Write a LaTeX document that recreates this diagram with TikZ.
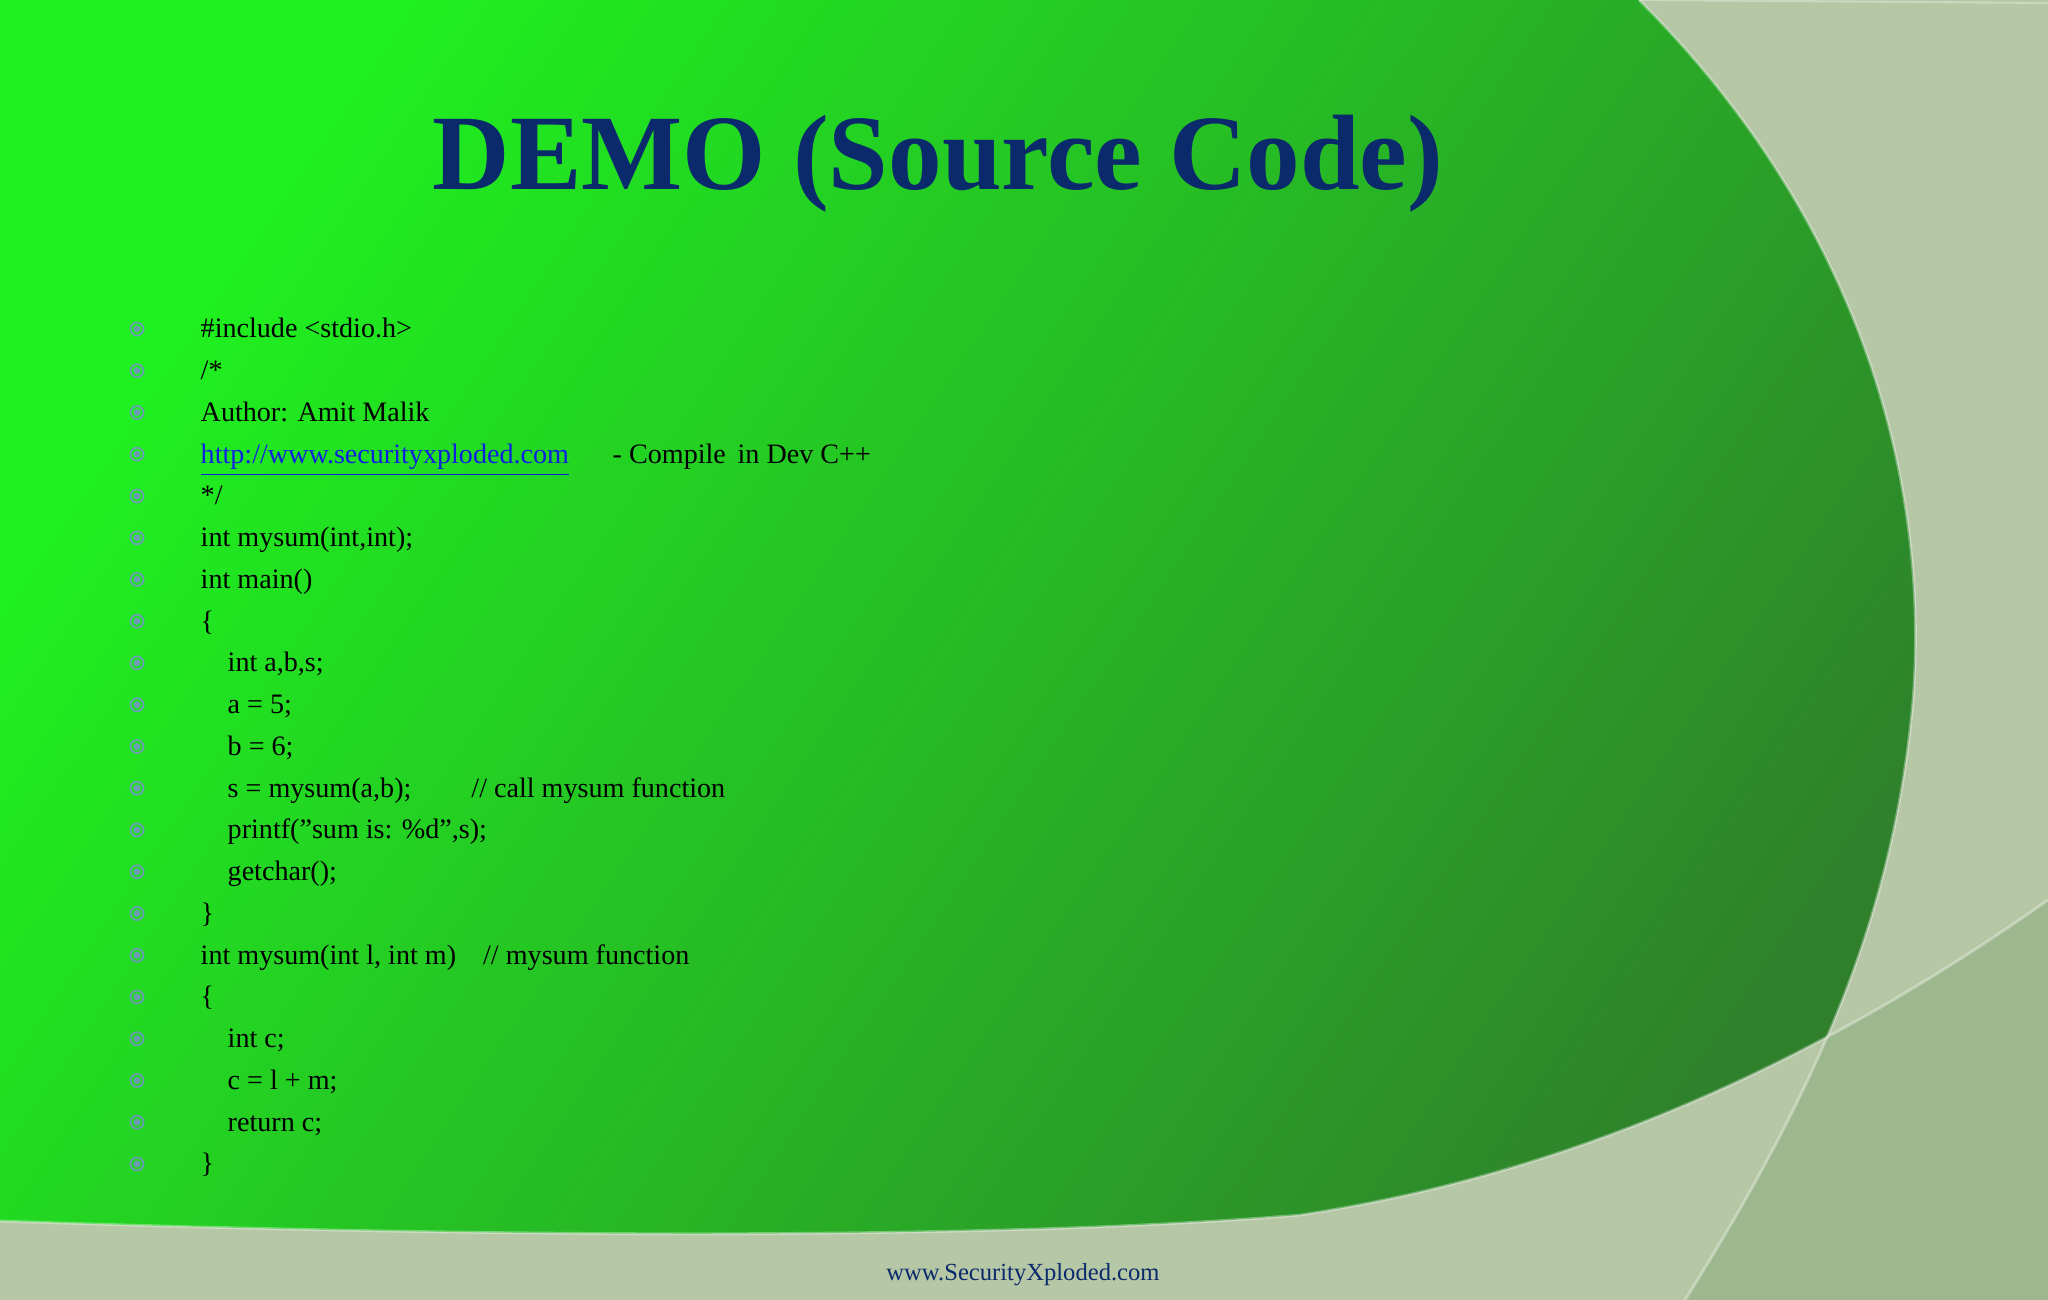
\documentclass[tikz,border=0pt]{standalone}
\usepackage{fontspec}
\setmainfont{Liberation Serif}
\definecolor{pale}{HTML}{B6C7A6}
\definecolor{palegreen}{HTML}{9DB78E}
\definecolor{bright}{HTML}{1FF01F}
\definecolor{khaki}{HTML}{9CC06C}
\definecolor{dark}{HTML}{2F7F2B}
\definecolor{titleblue}{HTML}{0B2A6B}
\definecolor{bul}{HTML}{6B9CB4}
\definecolor{linkblue}{HTML}{1020E0}
\tikzset{
 codeline/.style={anchor=base west,inner sep=0pt,font=\fontsize{8.0}{10}\selectfont,text=black},
 bulletmark/.style={circle,draw=bul,line width=0.5pt,minimum size=0.13cm,inner sep=0pt,
   path picture={\fill[bul] (path picture bounding box.center) circle (0.035cm);}}
}
\def\arcpath{(16.39,13) .. controls (18.6,10.8) and (19.3,8.2) .. (19.13,6.0)
  .. controls (18.95,4.0) and (18.3,2.3) .. (16.85,0)}
\def\curvepath{(0,0.79) .. controls (5,0.62) and (10,0.6) .. (13,0.85) .. controls (16,1.3) and (18.5,2.6) .. (20.48,4.0)}
\begin{document}
\begin{tikzpicture}
\useasboundingbox (0,0) rectangle (20.48,13);
\fill[pale] (0,0) rectangle (20.48,13);
% lower right corner region
\begin{scope}
 \clip \arcpath -- (20.48,0) -- (20.48,13) -- cycle;
 \fill[palegreen] \curvepath -- (20.48,0) -- (0,0) -- cycle;
\end{scope}
% main green region
\begin{scope}
 \clip (0,13) -- \arcpath -- (0,0) -- cycle;
 \shade[left color=bright, middle color=khaki, right color=dark, shading angle=56]
  \curvepath -- (20.48,13) -- (0,13) -- cycle;
\end{scope}
% faint edges
\draw[white,opacity=0.35,line width=0.8pt] \arcpath;
\draw[white,opacity=0.35,line width=0.8pt] \curvepath;
\draw[white,opacity=0.3,line width=0.6pt] (16.39,13) -- (20.48,12.97);

\node[font=\fontsize{30.5}{34}\selectfont\bfseries,text=titleblue] (title) at (9.38,11.36) {DEMO (Source Code)};

\foreach \i/\t in {
 1/{\#include <stdio.h>},
 2/{/*},
 3/{Author: Amit Malik},
 4/{},
 5/{*/},
 6/{int mysum(int,int);},
 7/{int main()},
 8/{\{},
 9/{\hspace{0.27cm}int a,b,s;},
 10/{\hspace{0.27cm}a = 5;},
 11/{\hspace{0.27cm}b = 6;},
 12/{\hspace{0.27cm}s = mysum(a,b);\hspace{0.6cm}// call mysum function},
 13/{\hspace{0.27cm}printf("sum is: \%d",s);},
 14/{\hspace{0.27cm}getchar();},
 15/{\}},
 16/{int mysum(int l, int m)\hspace{0.2cm} // mysum function},
 17/{\{},
 18/{\hspace{0.27cm}int c;},
 19/{\hspace{0.27cm}c = l + m;},
 20/{\hspace{0.27cm}return c;},
 21/{\}}}
{
 \pgfmathsetmacro\yy{13-3.29-(\i-1)*0.4175}
 \node[bulletmark] (b\i) at (1.37,\yy) {};
 \node[codeline] (c\i) at (2.0,\yy-0.09) {\t};
}
\node[codeline,text=linkblue] (link) at (2.0,{13-3.29-3*0.4175-0.09}) {\underline{http://www.securityxploded.com}};
\node[codeline] (comp) at (6.12,{13-3.29-3*0.4175-0.09}) {- Compile\, in Dev C++};

\node[font=\fontsize{7}{8}\selectfont,text=titleblue] (foot) at (10.23,0.25) {www.SecurityXploded.com};
\end{tikzpicture}
\end{document}
